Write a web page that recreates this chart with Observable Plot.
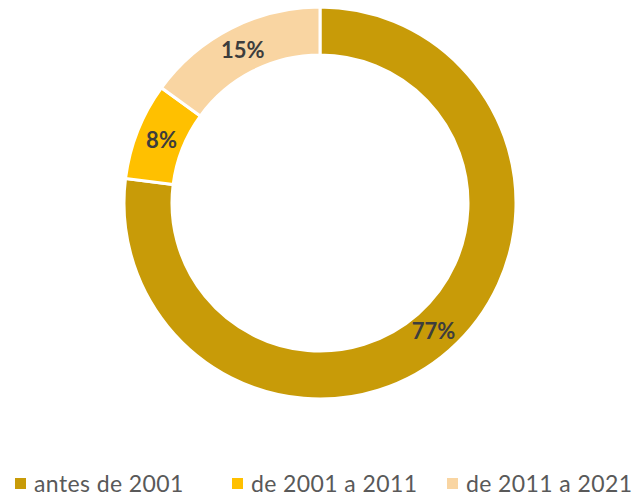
<!DOCTYPE html>
<html>
<head>
<meta charset="utf-8">
<script src="https://cdn.jsdelivr.net/npm/d3@7"></script>
<script src="https://cdn.jsdelivr.net/npm/@observablehq/plot@0.6"></script>
<style>
  html, body { margin: 0; padding: 0; background: #fff; }
  #chart { width: 636px; height: 497px; position: relative; overflow: hidden; }
  .legend { position: absolute; left: 0; top: 469px; width: 636px; height: 28px;
    font-family: Lato, "Open Sans", sans-serif; font-size: 23px; letter-spacing: 0.4px; color: #595959; }
  .item { position: absolute; top: 0; display: flex; align-items: center; height: 28px; white-space: nowrap; }
  .sw { width: 11px; height: 11px; margin-right: 8px; }
</style>
</head>
<body>
<div id="chart"></div>
<script>
const categories = ["antes de 2001", "de 2001 a 2011", "de 2011 a 2021"];
const values = [77, 8, 15];
const labels = ["77%", "8%", "15%"];
const colors = ["#C89B08", "#FFC000", "#F9D5A2"];

const W = 636, H = 465;
const data = categories.map((c, i) => ({category: c, value: values[i], label: labels[i]}));
const pie = d3.pie().value(d => d.value).sort(null)(data);
const outerR = 196, innerR = 148, labelR = 171;
pie.forEach(p => {
  const a = (p.startAngle + p.endAngle) / 2;
  p.lx = labelR * Math.sin(a);
  p.ly = labelR * Math.cos(a);
});

const ringMark = Plot.dot(pie, {
  x: () => 0, y: () => 0,
  render(index, scales, values, dimensions, context) {
    const cx = scales.x(0), cy = scales.y(0);
    const k = scales.x(1) - scales.x(0);
    const arc = d3.arc().innerRadius(innerR * k).outerRadius(outerR * k);
    const g = d3.create("svg:g").attr("transform", `translate(${cx},${cy})`);
    g.selectAll("path").data(pie).join("path")
      .attr("d", arc)
      .attr("fill", d => scales.color(d.data.category))
      .attr("stroke", "#fff")
      .attr("stroke-width", 3)
      .attr("stroke-linejoin", "miter");
    return g.node();
  }
});

const chart = Plot.plot({
  width: W, height: H,
  margin: 0,
  x: {domain: [-320, 316], range: [0, W], axis: null},
  y: {domain: [-(H - 203), 203], range: [H, 0], axis: null},
  color: {domain: categories, range: colors},
  style: {background: "transparent"},
  marks: [
    ringMark,
    Plot.text(pie, {
      x: "lx", y: "ly", text: d => d.data.label,
      fill: "#3d3d3d", fontSize: 22, fontWeight: "bold",
      fontFamily: "Lato, Open Sans, sans-serif"
    })
  ]
});

const root = document.getElementById("chart");
root.appendChild(chart);

const legend = document.createElement("div");
legend.className = "legend";
const lefts = [15, 232, 447];
categories.forEach((c, i) => {
  const it = document.createElement("div");
  it.className = "item";
  it.style.left = lefts[i] + "px";
  const sw = document.createElement("span");
  sw.className = "sw";
  sw.style.background = colors[i];
  const t = document.createElement("span");
  t.textContent = c;
  it.appendChild(sw); it.appendChild(t);
  legend.appendChild(it);
});
root.appendChild(legend);
</script>
</body>
</html>
